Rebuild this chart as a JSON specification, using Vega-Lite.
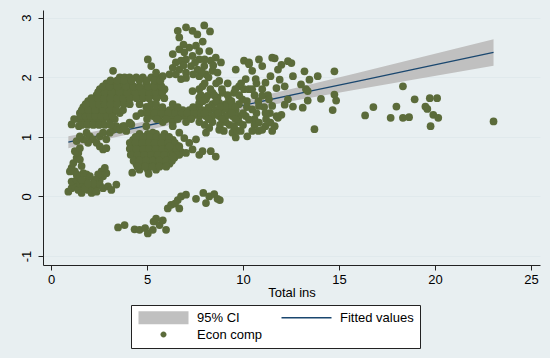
{
"$schema": "https://vega.github.io/schema/vega-lite/v6.json",
"width": 497, "height": 255,
"autosize": "none",
"padding": {"left": 43, "top": 10, "right": 10, "bottom": 93},
"background": "#E8EFF1",
"config": {"view": {"fill": "white", "stroke": null}, "font": "Liberation Sans",
 "axis": {"labelFont": "Liberation Sans", "titleFont": "Liberation Sans", "labelFontSize": 13, "titleFontSize": 13, "labelColor": "#000", "titleColor": "#000", "titleFontWeight": "normal", "domainColor": "#222", "tickColor": "#222", "tickSize": 5}},
"datasets": {
"fit": [
{"x":0.9,"fit":0.911,"lo":0.811,"hi":1.011},
{"x":3,"fit":1.054,"lo":0.971,"hi":1.137},
{"x":6.5,"fit":1.292,"lo":1.221,"hi":1.363},
{"x":10,"fit":1.53,"lo":1.447,"hi":1.613},
{"x":13,"fit":1.734,"lo":1.626,"hi":1.842},
{"x":16,"fit":1.938,"lo":1.799,"hi":2.077},
{"x":19,"fit":2.142,"lo":1.969,"hi":2.315},
{"x":23.05,"fit":2.417,"lo":2.196,"hi":2.638}
],
"leg": [{"g":"a"},{"g":"b"},{"g":"c"}],
"pts": [
{"x":3.49,"y":-0.52},{"x":3.83,"y":-0.48},{"x":4.35,"y":-0.55},{"x":4.61,"y":-0.56},{"x":4.9,"y":-0.53},{"x":5.04,"y":-0.62},{"x":5.3,"y":-0.56},{"x":5.34,"y":-0.42},{"x":5.47,"y":-0.37},{"x":5.65,"y":-0.48},{"x":5.82,"y":-0.4},{"x":5.99,"y":-0.56},{"x":6.08,"y":-0.2},{"x":6.25,"y":-0.14},{"x":6.46,"y":-0.12},{"x":6.6,"y":-0.06},{"x":6.68,"y":-0.2},{"x":6.77,"y":0.0},{"x":7.03,"y":0.03},{"x":7.55,"y":-0.04},{"x":7.93,"y":0.06},{"x":8.07,"y":-0.11},{"x":8.24,"y":0.0},{"x":8.5,"y":0.04},{"x":8.67,"y":-0.04},{"x":8.79,"y":-0.06},
{"x":0.9,"y":0.08},{"x":1.07,"y":0.14},{"x":1.24,"y":0.17},{"x":1.42,"y":0.11},{"x":1.59,"y":0.06},{"x":1.07,"y":0.25},{"x":1.33,"y":0.28},{"x":1.5,"y":0.22},{"x":1.68,"y":0.2},{"x":1.85,"y":0.25},{"x":2.02,"y":0.17},{"x":2.11,"y":0.06},{"x":2.19,"y":0.11},{"x":1.93,"y":0.11},{"x":1.76,"y":0.14},{"x":2.37,"y":0.17},{"x":2.54,"y":0.28},{"x":2.71,"y":0.34},{"x":2.88,"y":0.39},{"x":2.63,"y":0.42},{"x":2.45,"y":0.37},{"x":2.28,"y":0.28},{"x":2.02,"y":0.34},{"x":1.85,"y":0.37},{"x":1.68,"y":0.39},{"x":1.5,"y":0.34},{"x":2.54,"y":0.2},{"x":2.71,"y":0.14},{"x":2.97,"y":0.17},{"x":3.14,"y":0.11},{"x":3.4,"y":0.2},{"x":2.8,"y":0.48},{"x":2.37,"y":0.08},{"x":2.19,"y":0.22},{"x":1.59,"y":0.28},{"x":1.33,"y":0.37},{"x":1.24,"y":0.42},{"x":1.93,"y":0.22},
{"x":1.07,"y":0.48},{"x":1.16,"y":0.56},{"x":1.33,"y":0.65},{"x":1.42,"y":0.73},{"x":1.24,"y":0.76},{"x":1.5,"y":0.81},{"x":1.33,"y":0.93},{"x":0.98,"y":0.42},{"x":1.59,"y":0.51},{"x":1.5,"y":0.62},
{"x":1.85,"y":1.07},{"x":2.02,"y":1.01},{"x":2.19,"y":0.96},{"x":2.37,"y":0.9},{"x":2.54,"y":0.84},{"x":2.71,"y":0.79},{"x":2.88,"y":0.81},{"x":1.93,"y":0.9},{"x":1.68,"y":0.96},{"x":1.5,"y":1.01},{"x":2.54,"y":1.01},{"x":2.88,"y":0.96},{"x":3.06,"y":1.07},{"x":3.23,"y":1.12},{"x":3.4,"y":1.18},{"x":3.58,"y":1.12},{"x":3.75,"y":1.18},{"x":3.92,"y":1.1},{"x":2.71,"y":1.07},
{"x":1.42,"y":1.3},{"x":1.68,"y":1.3},{"x":1.93,"y":1.3},{"x":2.19,"y":1.3},{"x":2.45,"y":1.3},{"x":2.71,"y":1.3},{"x":3.06,"y":1.3},{"x":3.32,"y":1.3},
{"x":1.5,"y":1.4},{"x":1.85,"y":1.4},{"x":2.19,"y":1.4},{"x":2.54,"y":1.4},{"x":2.88,"y":1.4},{"x":3.23,"y":1.4},{"x":3.58,"y":1.4},
{"x":1.68,"y":1.5},{"x":2.11,"y":1.5},{"x":2.37,"y":1.5},{"x":2.63,"y":1.5},{"x":2.97,"y":1.5},{"x":3.32,"y":1.5},
{"x":1.93,"y":1.6},{"x":2.28,"y":1.6},{"x":2.54,"y":1.6},{"x":2.88,"y":1.6},{"x":3.23,"y":1.6},{"x":3.58,"y":1.6},{"x":3.92,"y":1.6},
{"x":2.37,"y":1.7},{"x":2.71,"y":1.7},{"x":3.06,"y":1.7},{"x":3.4,"y":1.7},{"x":3.83,"y":1.7},{"x":4.27,"y":1.7},{"x":4.61,"y":1.7},{"x":4.96,"y":1.7},{"x":5.3,"y":1.7},{"x":5.65,"y":1.7},
{"x":2.54,"y":1.8},{"x":2.88,"y":1.8},{"x":3.32,"y":1.8},{"x":3.75,"y":1.8},{"x":4.18,"y":1.8},{"x":4.78,"y":1.8},{"x":5.22,"y":1.8},{"x":5.56,"y":1.8},{"x":5.91,"y":1.8},
{"x":2.88,"y":1.9},{"x":3.23,"y":1.9},{"x":3.66,"y":1.9},{"x":4.01,"y":1.9},{"x":4.96,"y":1.9},{"x":5.39,"y":1.9},{"x":5.65,"y":1.9},
{"x":3.58,"y":2.0},{"x":3.83,"y":2.0},{"x":4.09,"y":2.0},{"x":4.44,"y":2.0},{"x":4.78,"y":2.0},{"x":5.22,"y":2.0},{"x":5.56,"y":2.0},
{"x":3.23,"y":2.11},{"x":5.04,"y":2.3},{"x":5.22,"y":2.19},{"x":5.47,"y":2.08},{"x":1.93,"y":1.57},{"x":1.59,"y":1.38},{"x":1.45,"y":1.18},{"x":3.83,"y":1.18},{"x":4.18,"y":1.21},{"x":4.44,"y":1.35},{"x":4.09,"y":1.24},{"x":1.07,"y":1.21},{"x":1.2,"y":1.3},{"x":4.61,"y":1.55},{"x":4.96,"y":1.5},{"x":5.22,"y":1.55},
{"x":1.6,"y":1.2},{"x":1.9,"y":1.2},{"x":2.2,"y":1.2},{"x":2.5,"y":1.2},{"x":2.8,"y":1.2},{"x":3.1,"y":1.2},
{"x":1.55,"y":1.35},{"x":1.8,"y":1.35},{"x":2.05,"y":1.35},{"x":2.3,"y":1.35},{"x":2.6,"y":1.35},{"x":2.9,"y":1.35},{"x":3.2,"y":1.35},
{"x":1.6,"y":1.45},{"x":1.95,"y":1.45},{"x":2.3,"y":1.45},{"x":2.7,"y":1.45},{"x":3.05,"y":1.45},{"x":3.4,"y":1.45},{"x":3.75,"y":1.45},
{"x":1.8,"y":1.55},{"x":2.2,"y":1.55},{"x":2.5,"y":1.55},{"x":2.8,"y":1.55},{"x":3.1,"y":1.55},{"x":3.45,"y":1.55},{"x":3.8,"y":1.55},{"x":4.1,"y":1.55},
{"x":2.1,"y":1.65},{"x":2.45,"y":1.65},{"x":2.75,"y":1.65},{"x":3.1,"y":1.65},{"x":3.45,"y":1.65},{"x":3.75,"y":1.65},{"x":4.1,"y":1.65},{"x":4.45,"y":1.65},{"x":4.8,"y":1.65},{"x":5.1,"y":1.65},{"x":5.5,"y":1.65},{"x":5.9,"y":1.65},
{"x":2.45,"y":1.75},{"x":2.8,"y":1.75},{"x":3.15,"y":1.75},{"x":3.55,"y":1.75},{"x":3.95,"y":1.75},{"x":4.4,"y":1.75},{"x":4.75,"y":1.75},{"x":5.1,"y":1.75},{"x":5.45,"y":1.75},{"x":5.8,"y":1.75},
{"x":2.7,"y":1.85},{"x":3.05,"y":1.85},{"x":3.45,"y":1.85},{"x":3.9,"y":1.85},{"x":4.3,"y":1.85},{"x":4.6,"y":1.85},{"x":5.05,"y":1.85},{"x":5.4,"y":1.85},{"x":5.75,"y":1.85},
{"x":3.1,"y":1.95},{"x":3.45,"y":1.95},{"x":3.8,"y":1.95},{"x":4.2,"y":1.95},{"x":4.6,"y":1.95},{"x":5.0,"y":1.95},{"x":5.4,"y":1.95},{"x":5.7,"y":1.95},
{"x":4.61,"y":1.05},{"x":5.04,"y":1.05},{"x":5.47,"y":1.05},{"x":5.91,"y":1.05},
{"x":4.27,"y":0.95},{"x":4.61,"y":0.95},{"x":4.96,"y":0.95},{"x":5.3,"y":0.95},{"x":5.65,"y":0.95},{"x":5.99,"y":0.95},{"x":6.34,"y":0.95},
{"x":4.18,"y":0.85},{"x":4.52,"y":0.85},{"x":4.87,"y":0.85},{"x":5.22,"y":0.85},{"x":5.56,"y":0.85},{"x":5.91,"y":0.85},{"x":6.25,"y":0.85},{"x":6.6,"y":0.85},
{"x":4.27,"y":0.75},{"x":4.61,"y":0.75},{"x":4.96,"y":0.75},{"x":5.3,"y":0.75},{"x":5.65,"y":0.75},{"x":5.99,"y":0.75},{"x":6.34,"y":0.75},{"x":6.77,"y":0.75},
{"x":4.35,"y":0.65},{"x":4.7,"y":0.65},{"x":5.04,"y":0.65},{"x":5.39,"y":0.65},{"x":5.73,"y":0.65},{"x":6.08,"y":0.65},{"x":6.42,"y":0.65},
{"x":4.44,"y":0.55},{"x":4.78,"y":0.55},{"x":5.13,"y":0.55},{"x":5.47,"y":0.55},{"x":5.82,"y":0.55},{"x":6.17,"y":0.55},
{"x":4.61,"y":0.45},{"x":5.04,"y":0.45},{"x":5.47,"y":0.45},
{"x":4.23,"y":0.4},{"x":5.08,"y":0.38},{"x":6.68,"y":0.7},{"x":4.96,"y":1.18},{"x":5.3,"y":1.07},
{"x":4.4,"y":1.0},{"x":4.8,"y":1.0},{"x":5.15,"y":1.0},{"x":5.5,"y":1.0},{"x":5.8,"y":1.0},{"x":6.15,"y":1.0},
{"x":4.1,"y":0.9},{"x":4.4,"y":0.9},{"x":4.75,"y":0.9},{"x":5.1,"y":0.9},{"x":5.4,"y":0.9},{"x":5.75,"y":0.9},{"x":6.1,"y":0.9},{"x":6.45,"y":0.9},
{"x":4.1,"y":0.8},{"x":4.45,"y":0.8},{"x":4.8,"y":0.8},{"x":5.1,"y":0.8},{"x":5.45,"y":0.8},{"x":5.8,"y":0.8},{"x":6.1,"y":0.8},{"x":6.5,"y":0.8},
{"x":4.15,"y":0.7},{"x":4.5,"y":0.7},{"x":4.85,"y":0.7},{"x":5.2,"y":0.7},{"x":5.55,"y":0.7},{"x":5.9,"y":0.7},{"x":6.25,"y":0.7},{"x":6.55,"y":0.7},
{"x":4.3,"y":0.6},{"x":4.6,"y":0.6},{"x":4.95,"y":0.6},{"x":5.3,"y":0.6},{"x":5.65,"y":0.6},{"x":6.0,"y":0.6},{"x":6.3,"y":0.6},
{"x":4.5,"y":0.5},{"x":4.9,"y":0.5},{"x":5.3,"y":0.5},{"x":5.65,"y":0.5},{"x":6.0,"y":0.5},
{"x":5.13,"y":1.45},{"x":5.47,"y":1.45},{"x":5.82,"y":1.45},{"x":6.17,"y":1.45},{"x":6.51,"y":1.45},{"x":6.86,"y":1.45},{"x":7.2,"y":1.45},{"x":7.55,"y":1.45},{"x":7.89,"y":1.45},{"x":8.24,"y":1.45},{"x":8.58,"y":1.45},{"x":8.93,"y":1.45},{"x":9.27,"y":1.45},{"x":9.62,"y":1.45},
{"x":5.3,"y":1.35},{"x":5.65,"y":1.35},{"x":5.99,"y":1.35},{"x":6.34,"y":1.35},{"x":6.77,"y":1.35},{"x":7.03,"y":1.35},{"x":7.37,"y":1.35},{"x":7.72,"y":1.35},{"x":8.06,"y":1.35},{"x":8.41,"y":1.35},{"x":8.76,"y":1.35},{"x":9.1,"y":1.35},{"x":9.45,"y":1.35},{"x":9.79,"y":1.35},{"x":10.14,"y":1.35},
{"x":5.82,"y":1.25},{"x":6.34,"y":1.25},{"x":7.03,"y":1.25},{"x":7.72,"y":1.25},{"x":8.41,"y":1.25},{"x":9.1,"y":1.25},{"x":9.79,"y":1.25},
{"x":5.47,"y":1.55},{"x":6.34,"y":1.55},{"x":7.72,"y":1.55},{"x":8.41,"y":1.55},{"x":9.1,"y":1.55},{"x":9.79,"y":1.55},
{"x":4.7,"y":1.4},{"x":5.0,"y":1.4},{"x":5.4,"y":1.4},{"x":5.75,"y":1.4},{"x":6.1,"y":1.4},{"x":6.45,"y":1.4},{"x":6.8,"y":1.4},{"x":7.1,"y":1.4},{"x":7.45,"y":1.4},{"x":7.8,"y":1.4},
{"x":5.0,"y":1.3},{"x":5.5,"y":1.3},{"x":6.0,"y":1.3},{"x":6.6,"y":1.3},{"x":7.3,"y":1.3},
{"x":5.0,"y":1.5},{"x":5.8,"y":1.5},{"x":6.6,"y":1.5},{"x":7.4,"y":1.5},
{"x":6.34,"y":1.18},{"x":6.68,"y":1.07},{"x":6.94,"y":0.98},{"x":7.2,"y":0.9},{"x":7.37,"y":0.79},{"x":7.72,"y":0.7},{"x":7.03,"y":0.73},{"x":7.55,"y":0.96},{"x":8.07,"y":1.07},{"x":7.89,"y":0.76},{"x":8.32,"y":0.76},{"x":8.58,"y":0.67},{"x":6.68,"y":0.84},{"x":6.34,"y":0.67},{"x":6.17,"y":0.84},{"x":8.24,"y":1.15},{"x":8.76,"y":1.12},{"x":9.45,"y":1.07},{"x":9.62,"y":0.99},
{"x":6.6,"y":2.78},{"x":6.68,"y":2.67},{"x":7.03,"y":2.84},{"x":7.37,"y":2.78},{"x":7.62,"y":2.72},{"x":7.98,"y":2.87},{"x":8.28,"y":2.77},{"x":6.34,"y":2.39},{"x":6.68,"y":2.47},{"x":6.94,"y":2.42},{"x":7.2,"y":2.5},{"x":7.55,"y":2.53},{"x":7.72,"y":2.44},{"x":7.37,"y":2.36},{"x":7.03,"y":2.3},{"x":6.77,"y":2.28},{"x":7.72,"y":2.3},{"x":8.24,"y":2.44},{"x":8.58,"y":2.33},{"x":8.32,"y":2.28},{"x":6.34,"y":2.16},{"x":6.68,"y":2.13},{"x":7.03,"y":2.08},{"x":7.29,"y":2.19},{"x":7.63,"y":2.13},{"x":7.98,"y":2.19},{"x":8.41,"y":2.11},{"x":8.67,"y":2.08},{"x":6.77,"y":1.97},{"x":7.03,"y":1.99},{"x":7.72,"y":2.02},{"x":8.07,"y":2.05},{"x":8.76,"y":1.94},{"x":8.85,"y":2.25},{"x":6.17,"y":2.05},{"x":5.82,"y":2.02},{"x":7.37,"y":1.77},{"x":7.72,"y":1.8},
{"x":6.5,"y":2.25},{"x":6.9,"y":2.2},{"x":7.5,"y":2.25},{"x":8.0,"y":2.3},{"x":8.45,"y":2.2},{"x":6.5,"y":2.05},{"x":7.4,"y":2.05},{"x":7.85,"y":2.1},{"x":8.2,"y":2.0},{"x":6.9,"y":2.55},{"x":7.9,"y":2.6},
{"x":7.89,"y":1.85},{"x":8.15,"y":1.69},{"x":8.41,"y":1.74},{"x":8.67,"y":1.66},{"x":8.93,"y":1.74},{"x":9.27,"y":1.63},{"x":9.53,"y":1.74},{"x":9.79,"y":1.85},{"x":10.14,"y":1.97},{"x":10.05,"y":1.8},{"x":9.62,"y":2.13},{"x":10.05,"y":2.28},{"x":10.31,"y":2.22},{"x":10.48,"y":2.11},{"x":9.1,"y":1.52},{"x":9.45,"y":1.52},{"x":8.76,"y":1.57},{"x":8.07,"y":1.63},{"x":7.72,"y":1.66},{"x":7.72,"y":1.57},{"x":9.96,"y":1.63},
{"x":8.0,"y":1.9},{"x":8.6,"y":1.9},{"x":9.2,"y":1.9},{"x":9.9,"y":1.9},{"x":10.7,"y":1.9},
{"x":8.3,"y":1.8},{"x":8.9,"y":1.8},{"x":9.6,"y":1.8},{"x":10.3,"y":1.8},{"x":11.0,"y":1.8},
{"x":7.8,"y":1.7},{"x":8.5,"y":1.7},{"x":9.2,"y":1.7},{"x":9.8,"y":1.7},{"x":10.6,"y":1.7},{"x":11.3,"y":1.7},
{"x":7.9,"y":1.6},{"x":8.6,"y":1.6},{"x":9.4,"y":1.6},{"x":10.2,"y":1.6},{"x":10.8,"y":1.6},
{"x":8.2,"y":1.5},{"x":8.8,"y":1.5},{"x":9.6,"y":1.5},{"x":10.2,"y":1.5},{"x":11.1,"y":1.5},
{"x":8.0,"y":1.4},{"x":8.7,"y":1.4},{"x":9.4,"y":1.4},{"x":10.0,"y":1.4},{"x":10.7,"y":1.4},{"x":11.4,"y":1.4},
{"x":8.2,"y":1.3},{"x":8.9,"y":1.3},{"x":9.6,"y":1.3},{"x":10.6,"y":1.3},{"x":11.2,"y":1.3},
{"x":8.0,"y":1.2},{"x":8.8,"y":1.2},{"x":9.3,"y":1.2},{"x":10.0,"y":1.2},{"x":10.6,"y":1.2},
{"x":9.0,"y":1.1},{"x":9.7,"y":1.1},{"x":10.8,"y":1.1},
{"x":10.31,"y":2.25},{"x":10.83,"y":2.3},{"x":11.0,"y":2.19},{"x":11.52,"y":2.33},{"x":10.66,"y":1.97},{"x":11.17,"y":1.91},{"x":11.43,"y":2.02},{"x":10.48,"y":1.8},{"x":11.0,"y":1.69},{"x":11.35,"y":1.63},{"x":10.83,"y":1.52},{"x":10.48,"y":1.46},{"x":11.17,"y":1.4},{"x":11.52,"y":1.52},{"x":10.31,"y":1.29},{"x":10.83,"y":1.24},{"x":11.17,"y":1.18},{"x":10.48,"y":1.1},{"x":11.0,"y":1.12},{"x":11.43,"y":1.24},{"x":10.22,"y":1.01},{"x":11.52,"y":1.1},{"x":9.53,"y":1.18},{"x":9.88,"y":1.1},
{"x":11.65,"y":2.32},{"x":12.0,"y":2.21},{"x":12.34,"y":2.27},{"x":12.52,"y":2.24},{"x":11.82,"y":2.13},{"x":11.91,"y":1.96},{"x":11.74,"y":1.82},{"x":12.17,"y":1.85},{"x":12.6,"y":2.02},{"x":13.2,"y":2.1},{"x":13.46,"y":1.96},{"x":13.89,"y":2.02},{"x":14.76,"y":2.1},{"x":13.02,"y":1.88},{"x":13.28,"y":1.8},{"x":13.37,"y":1.77},{"x":14.06,"y":1.64},{"x":13.37,"y":1.61},{"x":14.76,"y":1.71},{"x":14.85,"y":1.61},{"x":14.67,"y":1.45},{"x":12.34,"y":1.63},{"x":12.6,"y":1.51},{"x":12.17,"y":1.54},{"x":13.11,"y":1.49},{"x":12.0,"y":1.37},{"x":11.74,"y":1.35},{"x":11.65,"y":1.18},{"x":13.72,"y":1.13},{"x":11.82,"y":1.32},
{"x":16.36,"y":1.36},{"x":16.79,"y":1.5},{"x":17.69,"y":1.32},{"x":17.99,"y":1.51},{"x":18.33,"y":1.85},{"x":18.33,"y":1.32},{"x":18.65,"y":1.33},{"x":18.94,"y":1.63},{"x":19.5,"y":1.51},{"x":19.6,"y":1.47},{"x":19.73,"y":1.65},{"x":20.11,"y":1.65},{"x":19.91,"y":1.37},{"x":20.17,"y":1.32},{"x":19.77,"y":1.18},{"x":23.05,"y":1.26}
]
},
"layer": [
{"data": {"name": "fit"},
 "mark": {"type": "area", "color": "#C0C0C0", "opacity": 1},
 "encoding": {
  "x": {"field": "x", "type": "quantitative", "scale": {"domain": [-0.42, 25.47], "nice": false, "zero": false},
   "axis": {"title": "Total ins", "values": [0,5,10,15,20,25], "grid": false, "labelPadding": 3, "titlePadding": 0}},
  "y": {"field": "lo", "type": "quantitative", "scale": {"domain": [-1.15, 3.13], "nice": false, "zero": false},
   "axis": {"title": null, "values": [-1,0,1,2,3], "labelExpr": "'' + datum.value", "grid": true, "gridColor": "#E0E9EC", "labelAngle": -90, "labelAlign": "center", "labelBaseline": "bottom", "labelPadding": 5}},
  "y2": {"field": "hi"}
 }},
{"data": {"name": "fit"},
 "mark": {"type": "line", "color": "#1A476F", "strokeWidth": 1.3},
 "encoding": {
  "x": {"field": "x", "type": "quantitative", "scale": {"domain": [-0.42, 25.47], "nice": false, "zero": false}},
  "y": {"field": "fit", "type": "quantitative", "scale": {"domain": [-1.15, 3.13], "nice": false, "zero": false}}
 }},
{"data": {"name": "pts"},
 "mark": {"type": "circle", "color": "#5B6B3A", "opacity": 1, "size": 60},
 "encoding": {
  "x": {"field": "x", "type": "quantitative", "scale": {"domain": [-0.42, 25.47], "nice": false, "zero": false}},
  "y": {"field": "y", "type": "quantitative", "scale": {"domain": [-1.15, 3.13], "nice": false, "zero": false}}
 }},
{"data": {"name": "leg"},
 "transform": [{"filter": "false"}],
 "mark": {"type": "point", "filled": true, "opacity": 1, "strokeWidth": 0},
 "encoding": {
  "color": {"field": "g", "type": "nominal",
   "scale": {"domain": ["a", "b", "c"], "range": ["#C0C0C0", "#5B6B3A", "#1A476F"]},
   "legend": {"title": null, "labelExpr": "datum.label == 'a' ? '95% CI' : datum.label == 'b' ? 'Econ comp' : 'Fitted values'", "orient": "none", "legendX": 88, "legendY": 295, "columns": 2, "fillColor": "white", "strokeColor": "#222", "padding": 6, "labelFontSize": 13, "labelFont": "Liberation Sans", "labelColor": "#000", "labelOffset": 47, "columnPadding": 17, "rowPadding": 3, "symbolStrokeWidth": 0, "symbolOpacity": 1, "symbolSize": 100}},
  "shape": {"field": "g", "type": "nominal",
   "scale": {"domain": ["a", "b", "c"], "range": ["M-1,-1.3H9V1.3H-1Z", "M3.4,0A0.6,0.6 0 1,0 4.6,0A0.6,0.6 0 1,0 3.4,0Z", "M-1,-0.13H9V0.13H-1Z"]}}
 }}
]
}
